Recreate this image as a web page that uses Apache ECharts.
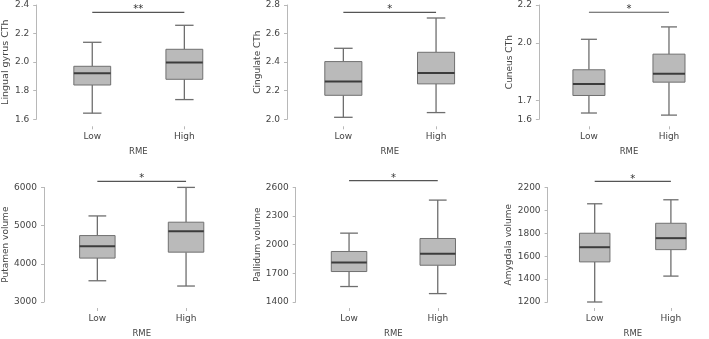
<!DOCTYPE html>
<html>
<head>
<meta charset="utf-8">
<script src="https://cdn.jsdelivr.net/npm/echarts@6/dist/echarts.min.js"></script>
<style>
  html, body { margin: 0; padding: 0; background: #fff; }
  #main { width: 709px; height: 339px; }
</style>
</head>
<body>
<div id="main"></div>
<script>
// 分组
var groups = ['Low', 'High'];
var xName = 'RME';

// 每组箱线: [min, Q1, median, Q3, max]
var lingualLow = [1.643, 1.84, 1.922, 1.971, 2.139];
var lingualHigh = [1.738, 1.88, 1.997, 2.09, 2.258];
var cingulateLow = [2.014, 2.168, 2.264, 2.404, 2.497];
var cingulateHigh = [2.047, 2.248, 2.324, 2.469, 2.709];
var cuneusLow = [1.633, 1.725, 1.785, 1.86, 2.02];
var cuneusHigh = [1.622, 1.795, 1.839, 1.942, 2.085];
var putamenLow = [3556, 4149, 4462, 4739, 5253];
var putamenHigh = [3418, 4305, 4854, 5089, 6000];
var pallidumLow = [1562, 1719, 1813, 1929, 2121];
var pallidumHigh = [1488, 1785, 1904, 2065, 2467];
var amygdalaLow = [1200, 1550, 1678, 1800, 2057];
var amygdalaHigh = [1426, 1657, 1757, 1887, 2092];

// y轴名称
var yNames = ['Lingual gyrus CTh', 'Cingulate CTh', 'Cuneus CTh',
              'Putamen volume', 'Pallidum volume', 'Amygdala volume'];

// 刻度
var lingualTicks = [1.6, 1.8, 2.0, 2.2, 2.4];
var cingulateTicks = [2.0, 2.2, 2.4, 2.6, 2.8];
var cuneusTicks = [1.6, 1.7, 2.0, 2.2];
var putamenTicks = [3000, 4000, 5000, 6000];
var pallidumTicks = [1400, 1700, 2000, 2300, 2600];
var amygdalaTicks = [1200, 1400, 1600, 1800, 2000, 2200];

// 显著性标记
var sigLabels = ['**', '*', '*', '*', '*', '*'];
var sigLevels = [2.349, 2.749, 2.162, 6157, 2670, 2252];

var panels = [
    { low: lingualLow, high: lingualHigh, ticks: lingualTicks, digits: 1 },
    { low: cingulateLow, high: cingulateHigh, ticks: cingulateTicks, digits: 1 },
    { low: cuneusLow, high: cuneusHigh, ticks: cuneusTicks, digits: 1 },
    { low: putamenLow, high: putamenHigh, ticks: putamenTicks, digits: 0 },
    { low: pallidumLow, high: pallidumHigh, ticks: pallidumTicks, digits: 0 },
    { low: amygdalaLow, high: amygdalaHigh, ticks: amygdalaTicks, digits: 0 }
];

// 布局 (px)
var grids = [
    { left: 45.4, top: 5, width: 185, height: 114.3 },
    { left: 297, top: 5, width: 185.4, height: 114.3 },
    { left: 548.9, top: 5, width: 184.6, height: 114.3 },
    { left: 53, top: 187.4, width: 177.4, height: 115 },
    { left: 304.7, top: 187.4, width: 177.4, height: 115 },
    { left: 556.6, top: 187.4, width: 176.6, height: 115 }
];

var FONT = 'DejaVu Sans';
var textColor = '#444';
var axisColor = '#b8b8b8';

var myChart = echarts.init(document.getElementById('main'), null, { renderer: 'canvas' });

function renderBox(params, api) {
    var x = api.value(0);
    var pMin = api.coord([x, api.value(1)]);
    var pQ1 = api.coord([x, api.value(2)]);
    var pMed = api.coord([x, api.value(3)]);
    var pQ3 = api.coord([x, api.value(4)]);
    var pMax = api.coord([x, api.value(5)]);
    var bw = api.size([1, 0])[0] * 0.4;
    var cw = bw * 0.5;
    var cx = pMed[0];
    var wStyle = { stroke: '#6e6e6e', lineWidth: 1.3 };
    return {
        type: 'group',
        children: [
            { type: 'line', shape: { x1: cx, y1: pMax[1], x2: cx, y2: pQ3[1] }, style: wStyle },
            { type: 'line', shape: { x1: cx, y1: pQ1[1], x2: cx, y2: pMin[1] }, style: wStyle },
            { type: 'line', shape: { x1: cx - cw / 2, y1: pMax[1], x2: cx + cw / 2, y2: pMax[1] }, style: wStyle },
            { type: 'line', shape: { x1: cx - cw / 2, y1: pMin[1], x2: cx + cw / 2, y2: pMin[1] }, style: wStyle },
            { type: 'rect', shape: { x: cx - bw / 2, y: pQ3[1], width: bw, height: pQ1[1] - pQ3[1] },
              style: { fill: '#bababa', stroke: '#707070', lineWidth: 1 } },
            { type: 'line', shape: { x1: cx - bw / 2, y1: pMed[1], x2: cx + bw / 2, y2: pMed[1] },
              style: { stroke: '#3c3c3c', lineWidth: 2 } }
        ]
    };
}

function makeSig(label) {
    return function (params, api) {
        var y = api.value(1);
        var a = api.coord([0, y]);
        var b = api.coord([1, y]);
        return {
            type: 'group',
            children: [
                { type: 'line', shape: { x1: a[0], y1: a[1], x2: b[0], y2: b[1] },
                  style: { stroke: '#555', lineWidth: 1.2 } },
                { type: 'text', style: { text: label, x: (a[0] + b[0]) / 2, y: a[1] - 2.5,
                  align: 'center', verticalAlign: 'middle', fill: '#333',
                  fontSize: 10, fontFamily: FONT } }
            ]
        };
    };
}

var xAxes = [], yAxes = [], series = [];
panels.forEach(function (p, i) {
    var top = i < 3;
    xAxes.push({
        gridIndex: i,
        type: 'category',
        data: groups,
        offset: top ? 7 : 6,
        axisLine: { show: false },
        axisTick: { show: true, alignWithLabel: true, length: 3, lineStyle: { color: axisColor } },
        axisLabel: { margin: 6, color: textColor, fontSize: 9, fontFamily: FONT },
        name: xName,
        nameLocation: 'middle',
        nameGap: 21,
        nameTextStyle: { color: textColor, fontSize: 8.5, fontFamily: FONT }
    });
    yAxes.push({
        gridIndex: i,
        type: 'value',
        min: p.ticks[0],
        max: p.ticks[p.ticks.length - 1],
        offset: top ? 10 : 9,
        splitLine: { show: false },
        axisLine: { show: true, lineStyle: { color: axisColor } },
        axisTick: { show: true, length: 3, customValues: p.ticks, lineStyle: { color: axisColor } },
        axisLabel: {
            customValues: p.ticks,
            margin: 7,
            color: textColor,
            fontSize: 9,
            fontFamily: FONT,
            formatter: (function (d) { return function (v) { return v.toFixed(d); }; })(p.digits)
        },
        name: yNames[i],
        nameLocation: 'middle',
        nameGap: top ? 25 : 34,
        nameTextStyle: { color: textColor, fontSize: i === 0 ? 9.5 : 9, fontFamily: FONT }
    });
    series.push({
        type: 'custom',
        xAxisIndex: i,
        yAxisIndex: i,
        silent: true,
        renderItem: renderBox,
        encode: { x: 0, y: [1, 2, 3, 4, 5] },
        data: [[0].concat(p.low), [1].concat(p.high)]
    });
    series.push({
        type: 'custom',
        xAxisIndex: i,
        yAxisIndex: i,
        silent: true,
        renderItem: makeSig(sigLabels[i]),
        encode: { x: 0, y: 1 },
        data: [[0, sigLevels[i]]]
    });
});

var option = {
    backgroundColor: '#fff',
    animation: false,
    grid: grids,
    xAxis: xAxes,
    yAxis: yAxes,
    series: series
};

myChart.setOption(option);
</script>
</body>
</html>
